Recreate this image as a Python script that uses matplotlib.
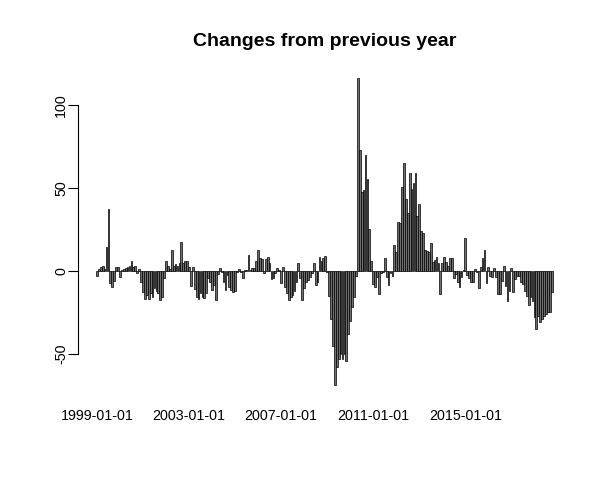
import numpy as np
import matplotlib
matplotlib.use("Agg")
import matplotlib.pyplot as plt

# monthly change vs previous year, Jan 1999 onwards
changes = [
    -3, 1, 2.5, 3, 1, 14.5, 37.5, -7.5, -10, -6, 2, 2.5, -3.5, 0.5, 1, 1.5,
    2, 3, 6, 2, 3, -1.5, 1, -7, -12.5, -17, -14.5, -17, -13.5, -15.5, -10.5, -12,
    -13.5, -17.5, -16, -4.5, 6, 3, 1, 12.5, 3, 4, 3, 4.5, 17.5, 4.5, 6, 6,
    2, -9, 2.5, -11, -16, -17, -13.5, -15.5, -16.5, -13.5, -4.5, -6.5, -11.5, -8.5, -17.5, -2,
    1.5, -1, -6.5, -11.5, -2.5, -9.5, -11.5, -12.5, -12, -0.5, 1, -1, -4.5, 0.5, 0.5, 9.5,
    0.5, 1.5, 1.5, 6, 12.5, 7.5, 7, -1.5, 7, 8.5, 4.5, -5, -4.5, -1.5, 1.5, 0.5,
    -7.5, 2, -9.5, -13.5, -17.5, -16, -14.5, -12, -7, 4.5, -4.5, -17.5, -10.5, -6.5, -5.5, -3.5,
    -1.5, 4.5, -8.5, -7, 8.5, 6, 8, 9, -1, -15, -29, -45, -68.5, -58, -53, -50,
    -53, -50, -54, -38, -30, -22, -16, -3, 116, 72.5, 47.5, 48.5, 69.5, 55.5, 25, 6,
    -8, -10, -3.5, -14, -1.5, -1, 7.5, -3.5, -8.5, -1.5, -3, 15.5, 11.5, 29.5, 28.5, 50.5,
    65, 43.5, 35, 59, 49.5, 53, 59, 33, 40, 24, 23, 12.5, 12, 11.5, 17, 5.5,
    6.5, 8.5, 5, -14, 5, 8.5, 5.5, 3, 7.5, 7.5, -4.5, -2, -6.5, -9.5, -4, 0.5,
    19.5, -2.5, -4.5, -6.5, -7, 1, -0.5, -10.5, 2.5, 7.5, 12.5, -7.5, 2.5, -3, -3.5, 1.5,
    -4, -14, -14, -6, 3, -9, -18, -12, 1.5, -13, -5, -3, -3, -7, -8, -12,
    -15, -20.5, -16, -18, -28, -35, -27, -31, -29, -27, -26, -25, -25, -13,
]
date_labels = ["1999-01-01", "2003-01-01", "2007-01-01", "2011-01-01", "2015-01-01"]
label_bars = [0, 48, 96, 144, 192]
y_ticks = [-50, 0, 50, 100]

plt.rcParams['font.family'] = ['Liberation Sans', 'DejaVu Sans']

fig = plt.figure(figsize=(6.13, 4.84), dpi=100)
ax = fig.add_axes([0.127, 0.180, 0.804, 0.684])

# R barplot style: width 1, space 0.2
n = len(changes)
x = 0.2 + 1.2 * np.arange(n) + 0.5
ax.bar(x, changes, width=1.1, color='#6e6e6e', edgecolor='black', linewidth=0.5)

xl, xr = 0.2, 1.2 * n
pad = 0.04 * (xr - xl)
ax.set_xlim(xl - pad, xr + pad)
lo, hi = min(changes), max(changes)
ypad = 0.04 * (hi - lo)
ax.set_ylim(lo - ypad, hi + ypad)

for s in ['top', 'right', 'bottom']:
    ax.spines[s].set_visible(False)
ax.spines['left'].set_bounds(y_ticks[0], y_ticks[-1])
ax.spines['left'].set_linewidth(0.8)
ax.set_yticks(y_ticks)
ax.set_yticklabels([str(v) for v in y_ticks], rotation=90, va='center', fontsize=10.3)
ax.tick_params(axis='y', length=7, width=0.8, pad=0)

ax.set_xticks([x[i] for i in label_bars])
ax.set_xticklabels(date_labels, fontsize=10.3)
ax.tick_params(axis='x', length=0, pad=9)

ax.set_title("Changes from previous year", fontsize=14, fontweight='bold', pad=14)

fig.savefig("out.png", dpi=100)
